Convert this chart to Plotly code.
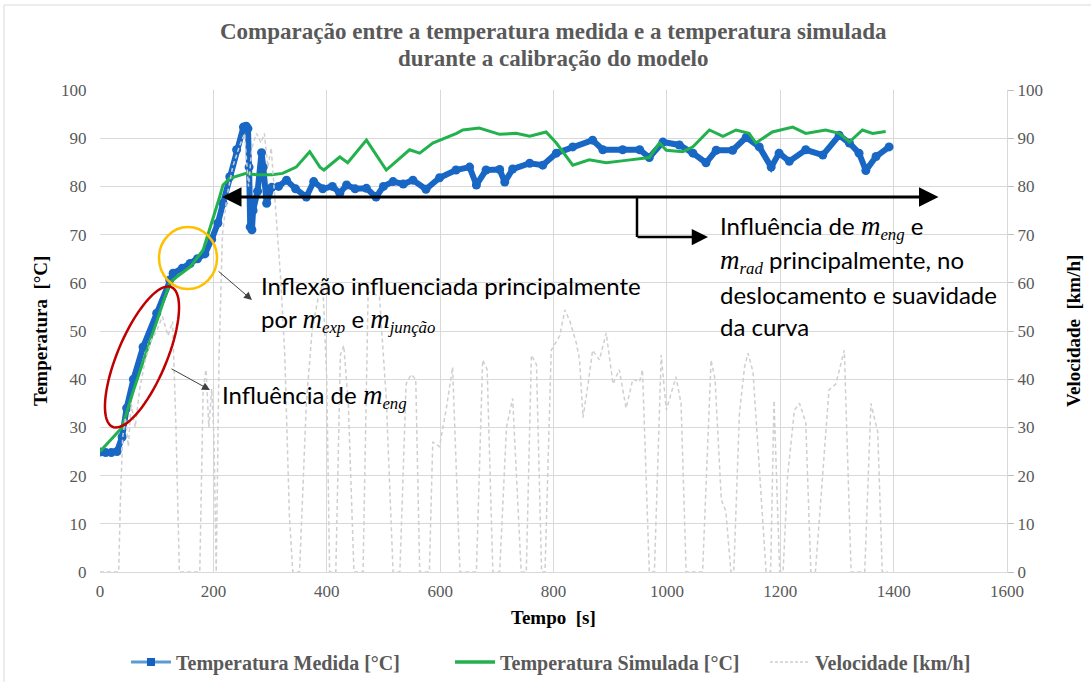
import numpy as np
import plotly.graph_objects as go

# ---------------- data ----------------
t_med = [0, 10, 20, 30, 39, 47, 59, 76, 100, 123, 129, 145, 159, 172, 185, 197, 208, 217, 229, 241,
         253, 258, 261, 263, 265, 268, 270, 278, 285, 288, 294, 303, 315, 329, 345, 364, 377, 393, 410,
         423, 435, 450, 470, 487, 500, 517, 535, 552, 575, 599, 628, 652, 664, 681, 705, 714, 728, 758,
         781, 805, 834, 869, 887, 922, 952, 969, 993, 1022, 1046, 1069, 1087, 1116, 1140, 1163, 1184,
         1198, 1216, 1245, 1275, 1304, 1322, 1339, 1351, 1369, 1392]
temp_med = [24.9, 24.8, 24.8, 25, 28, 34, 40, 46.7, 53.7, 60.6, 62, 63, 64, 65, 66, 69, 72.4, 76.5, 82,
            87.6, 92.3, 92.5, 92, 84, 71.6, 71, 75, 79, 87, 84, 76.5, 79.8, 80, 81.3, 79.5, 77.8, 81,
            79.5, 80, 78.6, 80.3, 79.5, 79.6, 77.8, 80, 81, 80.5, 81.3, 79.4, 81.8, 83.4, 84, 80.3, 83.4,
            83.5, 80.9, 83.6, 84.8, 84.4, 86.9, 88.2, 89.6, 87.6, 87.6, 87.6, 86, 89.2, 88.6, 86.9, 84.9,
            87.5, 87.5, 90.2, 88.2, 84, 86.9, 85.2, 87.6, 86.5, 90.6, 89, 86.9, 83.3, 86.2, 88.2]

t_sim = [0, 39, 60, 80, 100, 123, 135, 159, 182, 188, 199, 211, 217, 229, 258, 276, 303, 322, 346, 370,
         388, 395, 423, 437, 470, 505, 546, 564, 587, 629, 640, 669, 705, 734, 758, 787, 805, 834, 863,
         893, 928, 969, 987, 999, 1028, 1046, 1075, 1099, 1122, 1145, 1157, 1186, 1222, 1245, 1280,
         1304, 1322, 1345, 1363, 1386]
temp_sim = [25, 30, 38, 45, 52, 60, 61.2, 63.3, 66.8, 69, 73, 77.8, 80.3, 81.7, 82.7, 82.4, 82.4, 82.7,
            84, 87.2, 84, 83.4, 86.1, 84.9, 89.6, 83.4, 87.6, 86.9, 89, 91, 91.7, 92.1, 90.8, 91, 90.4,
            91.3, 89, 84.4, 85.5, 84.9, 85.4, 86, 89, 87.5, 87.2, 88.2, 91.7, 90.4, 91.7, 91, 89, 91.3,
            92.3, 91, 91.7, 91, 89.2, 91.7, 91, 91.4]

t_vel = [0, 33, 36, 40, 45, 50, 55, 62, 70, 80, 90, 100, 110, 120, 128, 134, 140, 176, 182, 187, 192,
         197, 201, 205, 210, 216, 224, 234, 245, 255, 262, 268, 276, 284, 290, 296, 302, 310, 318, 326,
         334, 340, 352, 364, 374, 385, 393, 400, 405, 416, 424, 430, 438, 448, 464, 473, 481, 493, 505,
         517, 529, 540, 549, 557, 564, 581, 587, 599, 611, 622, 635, 664, 675, 683, 693, 705, 717, 728,
         743, 752, 761, 770, 779, 785, 796, 811, 820, 829, 840, 846, 852, 861, 869, 881, 893, 905, 916,
         928, 940, 952, 957, 969, 978, 990, 999, 1016, 1025, 1034, 1063, 1078, 1085, 1096, 1104, 1113,
         1118, 1128, 1137, 1143, 1152, 1175, 1183, 1189, 1199, 1205, 1213, 1225, 1234, 1245, 1254, 1262,
         1271, 1286, 1298, 1313, 1325, 1349, 1360, 1372, 1380, 1390]
vel = [0, 0, 15, 28, 32, 26, 35, 30, 38, 44, 48, 50, 53, 49, 52, 30, 0, 0, 38, 42, 30, 38, 28, 0, 45,
       70, 78, 84, 88, 91, 80, 88, 91, 89, 91, 84, 88, 75, 62, 45, 12, 0, 0, 35, 50, 57, 60, 40, 0, 0,
       45, 47, 35, 0, 0, 58, 58, 57, 36, 0, 0, 39, 41, 40, 0, 0, 27, 26, 34, 42.5, 0, 0, 44, 42, 0, 0,
       30, 36, 0, 0, 45, 43, 0, 0, 46, 49, 54.4, 52, 47.6, 44, 32, 39, 46, 44, 49.6, 39, 42, 34, 40,
       39.5, 42, 0, 0, 45, 33.6, 40.5, 35, 0, 0, 44, 40, 15, 12.6, 0, 0, 33, 42.5, 45.4, 41.5, 0, 0,
       35.6, 0, 0, 20, 33.6, 35, 31, 0, 0, 15, 37.8, 39, 46, 0, 0, 35, 29, 0, 0]

x_ticks = [0, 200, 400, 600, 800, 1000, 1200, 1400, 1600]
y_ticks = [0, 10, 20, 30, 40, 50, 60, 70, 80, 90, 100]

# ---------------- styling ----------------
SERIF = "Liberation Serif"
SANS = "Lato"
GRAY_TXT = "#595959"
GRID = "#D9D9D9"
BLUE = "#1967C4"
GREEN = "#22B14C"

fig = go.Figure()

fig.add_trace(go.Scatter(x=t_vel, y=vel, mode="lines", yaxis="y2", showlegend=False,
                         line=dict(color="#CFCFCF", width=1.5, dash="4px,3px")))
fig.add_trace(go.Scatter(x=t_med, y=temp_med, mode="lines+markers", showlegend=False,
                         line=dict(color=BLUE, width=6), marker=dict(color=BLUE, size=9)))
fig.add_trace(go.Scatter(x=t_sim, y=temp_sim, mode="lines", showlegend=False,
                         line=dict(color=GREEN, width=3)))

# legend-only entries (one legend per entry, to place them like the reference)
fig.add_trace(go.Scatter(x=[None], y=[None], mode="lines+markers", name="<b>Temperatura Medida [°C]</b>",
                         legend="legend",
                         line=dict(color="#5B9BD5", width=3), marker=dict(color="#1560C0", size=8, symbol="square")))
fig.add_trace(go.Scatter(x=[None], y=[None], mode="lines", name="<b>Temperatura Simulada [°C]</b>",
                         legend="legend2", line=dict(color=GREEN, width=3.5)))
fig.add_trace(go.Scatter(x=[None], y=[None], mode="lines", name="<b>Velocidade [km/h]</b>", yaxis="y2",
                         legend="legend3", line=dict(color="#CFCFCF", width=1.5, dash="3px,2px")))

# ---------------- shapes: ellipse, circle, border ----------------
PX0, PX1, PY0, PY1 = 100, 1007, 572, 90
def tx(px):
    return (px - PX0) / (PX1 - PX0) * 1600
def ty(py):
    return (PY0 - py) / (PY0 - PY1) * 100
def paper_x(px):
    return (px - PX0) / (PX1 - PX0)
def paper_y(py):
    return (PY0 - py) / (PY0 - PY1)

cx, cy, a, b, th = 142, 357, 75.8, 24.5, np.radians(67.2)
ang = np.linspace(0, 2 * np.pi, 80)
ex = cx + a * np.cos(ang) * np.cos(th) - b * np.sin(ang) * np.sin(th)
ey = cy - (a * np.cos(ang) * np.sin(th) + b * np.sin(ang) * np.cos(th))
path = "M " + " L ".join(f"{tx(x):.2f},{ty(y):.2f}" for x, y in zip(ex, ey)) + " Z"
fig.add_shape(type="path", path=path, xref="x", yref="y", line=dict(color="#C00000", width=2.5))

fig.add_shape(type="circle", xref="x", yref="y", x0=tx(159), x1=tx(217), y0=ty(289), y1=ty(227),
              line=dict(color="#FFC000", width=2.5))

fig.add_shape(type="rect", xref="paper", yref="paper",
              x0=paper_x(4), x1=paper_x(1100), y0=paper_y(700), y1=paper_y(5),
              line=dict(color=GRID, width=1), layer="below")

fig.add_shape(type="line", xref="x", yref="y", x0=tx(637), x1=tx(637), y0=ty(197), y1=ty(237),
              line=dict(color="black", width=2.5))

# ---------------- arrows ----------------
def arrow(x_head, y_head, x_tail, y_tail, color, width, head=2, size=1.2, side="end"):
    fig.add_annotation(x=tx(x_head), y=ty(y_head), ax=tx(x_tail), ay=ty(y_tail), xref="x", yref="y",
                       axref="x", ayref="y", text="", showarrow=True, arrowhead=head,
                       arrowsize=size, arrowwidth=width, arrowcolor=color, arrowside=side)

arrow(222, 197, 940, 197, "black", 3, head=2, size=1.3, side="end+start")
arrow(708, 237, 636, 237, "black", 2.5, head=2, size=1.3)
arrow(252, 300, 217, 270, "#404040", 1, head=2, size=1.6)
arrow(210, 390, 170, 368, "#404040", 1, head=2, size=1.6)

# ---------------- text annotations ----------------
def m(sub):
    return (f'<span style="font-family:Liberation Serif;font-style:italic;font-size:27px">m</span>'
            f'<sub><span style="font-family:Liberation Serif;font-style:italic">{sub}</span></sub>')

def label(px, py, text):
    fig.add_annotation(x=tx(px), y=ty(py), xref="x", yref="y", text=text, showarrow=False,
                       xanchor="left", yanchor="middle", align="left",
                       font=dict(family=SANS, size=24, color="black"))

label(259, 285, "Inflexão influenciada principalmente")
label(259, 320, "por " + m("exp") + " e " + m("junção"))
label(220, 396, "Influência de " + m("eng"))
label(718, 227, "Influência de " + m("eng") + " e")
label(718, 261, m("rad") + " principalmente, no")
label(718, 294, "deslocamento e suavidade")
label(718, 326, "da curva")

# title as two lines
for line_txt, py in [("Comparação entre a temperatura medida e a temperatura simulada", 32),
                     ("durante a calibração do modelo", 58)]:
    fig.add_annotation(x=paper_x(553), y=paper_y(py), xref="paper", yref="paper", text=f"<b>{line_txt}</b>",
                       showarrow=False, xanchor="center", yanchor="middle",
                       font=dict(family=SERIF, size=23, color=GRAY_TXT))

# axis titles
axis_title_font = dict(family=SERIF, size=19, color="black")
fig.add_annotation(x=paper_x(553), y=paper_y(617), xref="paper", yref="paper", text="<b>Tempo  [s]</b>",
                   showarrow=False, xanchor="center", yanchor="middle", font=axis_title_font)
fig.add_annotation(x=paper_x(40), y=paper_y(331), xref="paper", yref="paper", text="<b>Temperatura  [°C]</b>",
                   showarrow=False, xanchor="center", yanchor="middle", textangle=-90, font=axis_title_font)
fig.add_annotation(x=paper_x(1073), y=paper_y(331), xref="paper", yref="paper", text="<b>Velocidade  [km/h]</b>",
                   showarrow=False, xanchor="center", yanchor="middle", textangle=-90, font=axis_title_font)

# ---------------- layout ----------------
def leg(px_left):
    return dict(orientation="h", xref="container", x=px_left / 1091, xanchor="left",
                y=paper_y(662), yanchor="middle",
                font=dict(family=SERIF, size=20, color=GRAY_TXT), itemwidth=40,
                bgcolor="rgba(0,0,0,0)")

fig.update_layout(
    width=1091, height=682,
    margin=dict(l=PX0, r=1091 - PX1, t=PY1, b=682 - PY0, autoexpand=False),
    paper_bgcolor="white", plot_bgcolor="white",
    xaxis=dict(range=[0, 1600], tickvals=x_ticks, ticktext=[str(v) for v in x_ticks],
               showgrid=True, gridcolor=GRID, gridwidth=1, zeroline=False,
               showline=True, linecolor=GRID, ticks="outside", ticklen=4, tickcolor="rgba(0,0,0,0)",
               tickfont=dict(family=SERIF, size=17, color=GRAY_TXT)),
    yaxis=dict(range=[0, 100], tickvals=y_ticks, ticktext=[str(v) for v in y_ticks],
               showgrid=True, gridcolor=GRID, gridwidth=1, zeroline=False, showline=False,
               ticks="outside", ticklen=9, tickcolor="rgba(0,0,0,0)",
               tickfont=dict(family=SERIF, size=17, color=GRAY_TXT)),
    yaxis2=dict(range=[0, 100], tickvals=y_ticks, ticktext=[str(v) for v in y_ticks],
                overlaying="y", side="right", showgrid=False, zeroline=False,
                showline=True, linecolor=GRID, ticks="outside", ticklen=6, tickcolor="#BFBFBF",
                tickfont=dict(family=SERIF, size=17, color=GRAY_TXT)),
    legend=leg(126),
    legend2=leg(450),
    legend3=leg(765),
    showlegend=True,
)

fig.write_html("out.html")
